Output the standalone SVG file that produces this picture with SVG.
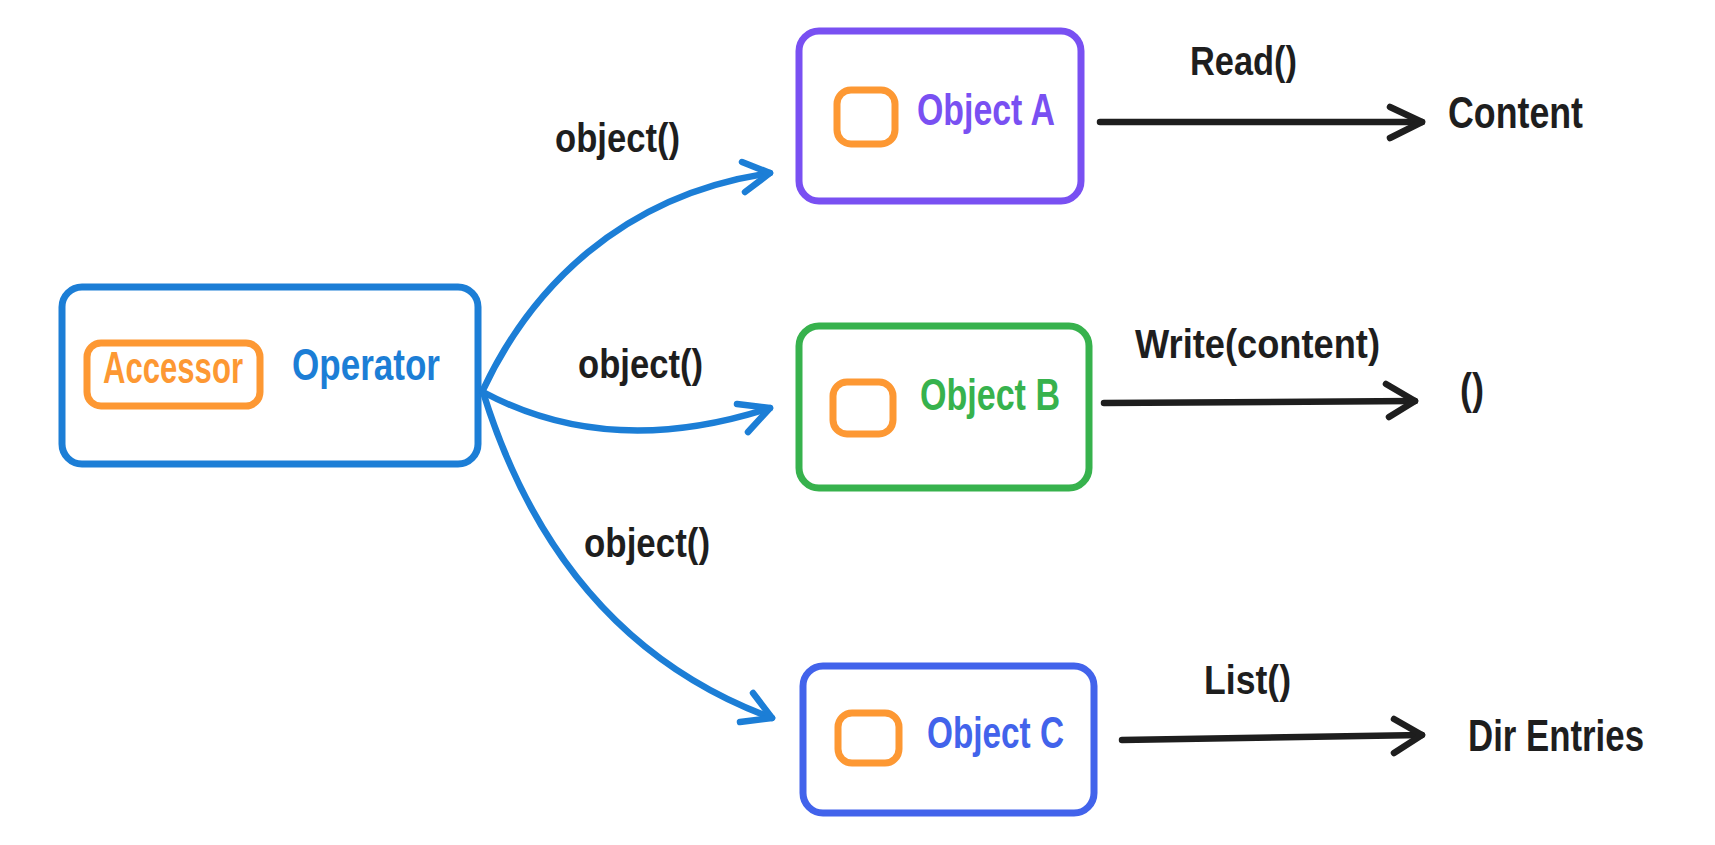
<svg xmlns="http://www.w3.org/2000/svg" width="1715" height="845" viewBox="0 0 1715 845">
<style>
.box{fill:none;stroke-width:7;stroke-linejoin:round}
.op{stroke:#1c7ed6}
.pa{stroke:#7950f2}
.gb{stroke:#37b24d}
.ic{stroke:#4263eb}
.or{stroke:#fd9833}
.t{font-family:"Liberation Sans",Arial,sans-serif;font-weight:bold}
.nt{font-size:45px}
.lt{font-size:40px;fill:#1e1e1e}
.ca{fill:none;stroke:#1c7ed6;stroke-width:6.5;stroke-linecap:round;stroke-linejoin:round}
.ba{fill:none;stroke:#1e1e1e;stroke-width:6.5;stroke-linecap:round;stroke-linejoin:round}
</style>
<rect width="1715" height="845" fill="#ffffff"/>
<g id="operator">
<rect class="box op" x="62" y="287" width="416" height="177" rx="20"/>
<rect class="box or" x="87" y="343" width="173" height="63" rx="14"/>
<text class="t nt" x="103" y="383" fill="#fd9833" textLength="140" lengthAdjust="spacingAndGlyphs">Accessor</text>
<text class="t nt" x="292" y="380" fill="#1c7ed6" textLength="148" lengthAdjust="spacingAndGlyphs">Operator</text>
</g>
<g id="objectA">
<rect class="box pa" x="799" y="31" width="282" height="170" rx="20"/>
<rect class="box or" x="837" y="90" width="58" height="54" rx="14"/>
<text class="t nt" x="917" y="125" fill="#7950f2" textLength="138" lengthAdjust="spacingAndGlyphs">Object A</text>
</g>
<g id="objectB">
<rect class="box gb" x="799" y="326" width="290" height="162" rx="20"/>
<rect class="box or" x="833" y="382" width="60" height="52" rx="14"/>
<text class="t nt" x="920" y="410" fill="#37b24d" textLength="140" lengthAdjust="spacingAndGlyphs">Object B</text>
</g>
<g id="objectC">
<rect class="box ic" x="803" y="666" width="291" height="147" rx="20"/>
<rect class="box or" x="838" y="713" width="61" height="50" rx="14"/>
<text class="t nt" x="927" y="748" fill="#4263eb" textLength="137" lengthAdjust="spacingAndGlyphs">Object C</text>
</g>
<g id="content">
<text class="t nt" x="1448" y="128" fill="#1e1e1e" textLength="135" lengthAdjust="spacingAndGlyphs">Content</text>
</g>
<g id="empty">
<text class="t nt" x="1460" y="404" fill="#1e1e1e" textLength="24" lengthAdjust="spacingAndGlyphs">()</text>
</g>
<g id="direntries">
<text class="t nt" x="1468" y="751" fill="#1e1e1e" textLength="176" lengthAdjust="spacingAndGlyphs">Dir Entries</text>
</g>
<g id="connectors">
<path class="ca" d="M483 390 C530 290 620 195 770 173"/>
<polyline class="ca" points="742,162 770,173 745,192"/>
<path class="ca" d="M483 392 Q610 460 770 408"/>
<polyline class="ca" points="737,404 770,408 748,432"/>
<path class="ca" d="M483 392 Q560 640 772 718"/>
<polyline class="ca" points="753,693 772,718 740,722"/>
<text class="t lt" x="555" y="152" textLength="125" lengthAdjust="spacingAndGlyphs">object()</text>
<text class="t lt" x="578" y="378" textLength="125" lengthAdjust="spacingAndGlyphs">object()</text>
<text class="t lt" x="584" y="557" textLength="126" lengthAdjust="spacingAndGlyphs">object()</text>
<path class="ba" d="M1100 122 L1422 122"/>
<polyline class="ba" points="1390,107 1422,122 1390,138"/>
<text class="t lt" x="1190" y="75" textLength="107" lengthAdjust="spacingAndGlyphs">Read()</text>
<path class="ba" d="M1104 403 L1415 401"/>
<polyline class="ba" points="1386,384 1415,401 1389,417"/>
<text class="t lt" x="1135" y="358" textLength="245" lengthAdjust="spacingAndGlyphs">Write(content)</text>
<path class="ba" d="M1122 740 L1422 735"/>
<polyline class="ba" points="1394,719 1422,735 1394,753"/>
<text class="t lt" x="1204" y="694" textLength="87" lengthAdjust="spacingAndGlyphs">List()</text>
</g>
</svg>
